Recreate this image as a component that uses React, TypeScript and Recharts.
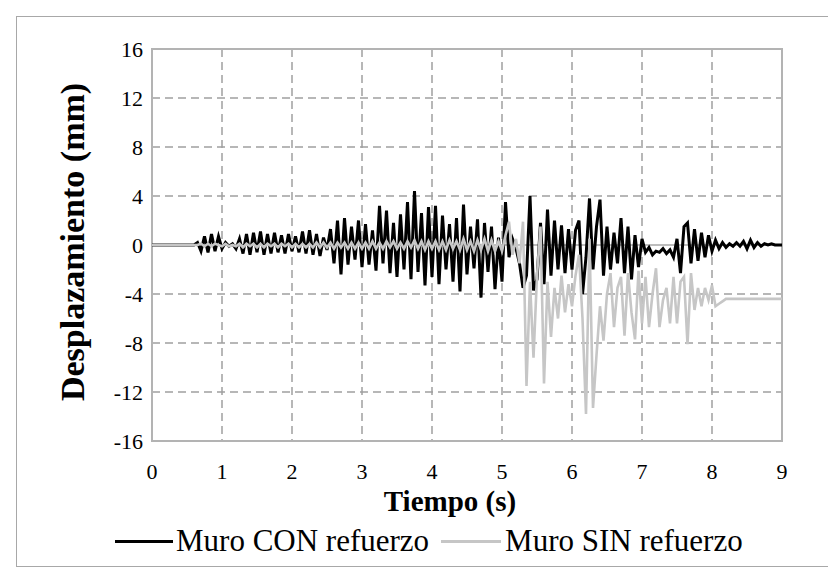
import React from 'react';
import { LineChart, Line, XAxis, YAxis, CartesianGrid, ReferenceArea, ReferenceLine, Label } from 'recharts';

const DT = 0.05;

// Muro CON refuerzo (mm), sampled every 0.05 s from 0 to 9 s
const CON_1 = [0, 0, 0, 0, 0, 0, 0, 0, 0, 0, 0, 0, 0, 0.2, -0.5, 0.7, -0.6, 0.9, -0.5, 0.7];
const CON_2 = [-0.3, 0.2, -0.1, 0.1, -0.3, 0.5, -0.7, 0.9, -0.8, 1.0, -0.6, 1.1, -0.8, 0.9, -0.7, 1.0, -0.6, 0.8, -0.7, 0.9];
const CON_3 = [-0.5, 0.7, -0.6, 1.1, -0.7, 1.2, -0.8, 0.9, -0.9, 0.6, -0.4, 1.3, -1.5, 2.0, -2.4, 2.2, -1.6, 1.5, -1.2, 2.0];
const CON_4 = [-1.8, 1.7, -1.6, 1.2, -2.1, 3.2, -1.5, 2.8, -2.3, 1.8, -2.6, 2.5, -2.0, 3.5, -2.8, 4.4, -2.2, 2.6, -3.3, 3.1];
const CON_5 = [-2.6, 3.2, -3.2, 2.4, -2.0, 1.7, -3.0, 2.2, -3.8, 3.3, -2.4, 1.5, -1.9, 2.1, -4.3, 1.8, -2.2, 1.5, -3.6, 0.6];
const CON_6 = [-3.0, 3.5, -1.0, 0.5, -0.3, -1.5, -3.5, -2.5, 4.0, -3.7, -2.8, 1.8, -3.2, 2.9, -2.5, 2.0, -2.0, 1.6, -2.3, 1.3];
const CON_7 = [-2.0, 1.2, 2.0, -4.0, -1.0, 3.8, -2.0, 1.5, 3.7, -2.5, 1.5, -2.0, 1.0, -1.5, 2.2, -2.3, 1.5, -2.8, 0.8, -1.8];
const CON_8 = [0.5, -0.6, -0.2, -0.8, -0.5, -0.6, -0.3, -0.7, -0.4, -1.0, 0.5, -2.3, 1.5, 1.8, -1.5, 1.3, -1.3, 1.0, -1.0, 0.8];
const CON_9 = [-0.5, 0.4, -0.3, 0.2, -0.2, 0.1, -0.1, 0.2, -0.1, 0.3, -0.3, 0.4, -0.2, 0.2, -0.1, 0.1, 0, 0.1, 0, 0];
const CON_END = [0];

// Muro SIN refuerzo (mm), same sampling
const SIN_1 = [0, 0, 0, 0, 0, 0, 0, 0, 0, 0, 0, 0, 0, 0, 0.1, -0.1, 0.1, -0.1, 0.1, 0];
const SIN_2 = [-0.1, 0.1, -0.1, 0, -0.1, 0.1, -0.2, 0.1, -0.1, 0.1, -0.2, 0.1, -0.2, 0.1, -0.1, 0.1, -0.2, 0.1, -0.1, 0.1];
const SIN_3 = [-0.2, 0.1, -0.2, 0.1, -0.2, 0.1, -0.2, 0.2, -0.2, 0.2, -0.2, 0.2, -0.3, 0.2, -0.2, 0.2, -0.3, 0.2, -0.3, 0.2];
const SIN_4 = [-0.3, 0.2, -0.3, 0.3, -0.3, 0.2, -0.3, 0.3, -0.2, 0.3, -0.3, 0.2, -0.3, 0.3, -0.2, 0.4, -0.3, 0.3, -0.4, 0.3];
const SIN_5 = [-0.3, 0.3, -0.4, 0.3, -0.4, 0.4, -0.3, 0.3, -0.4, 0.5, -0.4, 0.3, -0.5, 0.4, -0.4, 0.5, -0.5, 0.4, -0.5, 0.3];
const SIN_6 = [-0.5, 0.8, 1.9, -0.8, 0.5, -1.5, 1.9, -11.5, -3.0, -9.2, -2.5, 1.5, -11.3, -3.0, -7.5, -3.5, -6.0, -2.5, -5.5, -3.2];
const SIN_7 = [-5.0, -2.5, -0.8, -6.0, -13.8, 0.5, -13.3, -9.0, -5.0, -7.8, -4.0, -2.3, -6.7, -3.5, -2.6, -7.4, -2.3, -5.5, -7.7, -2.1];
const SIN_8 = [-6.4, -2.6, -6.7, -4.0, -1.9, -6.7, -4.5, -3.5, -6.4, -2.6, -6.4, -3.0, -2.6, -8.1, -2.3, -5.3, -3.5, -5.0, -3.5, -4.5];
const SIN_9 = [-3.3, -5.0, -4.8, -4.6, -4.4, -4.4, -4.4, -4.4, -4.4, -4.4, -4.4, -4.4, -4.4, -4.4, -4.4, -4.4, -4.4, -4.4, -4.4, -4.4];
const SIN_END = [-4.4];

const CON = [...CON_1, ...CON_2, ...CON_3, ...CON_4, ...CON_5, ...CON_6, ...CON_7, ...CON_8, ...CON_9, ...CON_END];
const SIN = [...SIN_1, ...SIN_2, ...SIN_3, ...SIN_4, ...SIN_5, ...SIN_6, ...SIN_7, ...SIN_8, ...SIN_9, ...SIN_END];

const X_TICKS = [0, 1, 2, 3, 4, 5, 6, 7, 8, 9];
const Y_TICKS = [-16, -12, -8, -4, 0, 4, 8, 12, 16];
const SERIES_NAMES = ['Muro CON refuerzo', 'Muro SIN refuerzo'];
const SERIES_COLORS = ['#000000', '#c6c6c6'];
const X_TITLE = 'Tiempo (s)';
const Y_TITLE = 'Desplazamiento (mm)';

const data = CON.map((v, i) => ({ t: Math.round(i * DT * 100) / 100, con: v, sin: SIN[i] }));

const FONT = '"Liberation Serif", "DejaVu Serif", serif';

export default function App() {
  return (
    <div style={{ position: 'absolute', left: 0, top: 0, width: 828, height: 580, background: '#fff', overflow: 'hidden' }}>
      <div style={{ position: 'absolute', left: 16, top: 16, width: 830, height: 549, border: '1.5px solid #a8a8a8' }} />
      <div style={{ position: 'absolute', left: 0, top: 0 }}>
        <LineChart width={828} height={580} data={data} margin={{ top: 49, right: 46, bottom: 109, left: 92 }}>
          <CartesianGrid stroke="#a0a0a0" strokeWidth={1.5} strokeDasharray="8 5" />
          <XAxis
            dataKey="t"
            type="number"
            domain={[0, 9]}
            ticks={X_TICKS}
            height={30}
            axisLine={false}
            tickLine={false}
            tickSize={0}
            tickMargin={22}
            tick={{ fill: '#000', fontSize: 22, fontFamily: FONT }}
            interval={0}
          >
            <Label
              content={() => (
                <text x={450} y={511} textAnchor="middle" fontFamily={FONT} fontWeight="bold" fontSize={29} fill="#000">
                  {X_TITLE}
                </text>
              )}
            />
          </XAxis>
          <YAxis
            type="number"
            domain={[-16, 16]}
            ticks={Y_TICKS}
            width={60}
            axisLine={false}
            tickLine={false}
            tickSize={0}
            tickMargin={9}
            tick={{ fill: '#000', fontSize: 22, fontFamily: FONT }}
            interval={0}
          >
            <Label
              content={() => (
                <text
                  x={72}
                  y={242}
                  transform="rotate(-90 72 242)"
                  textAnchor="middle"
                  dominantBaseline="central"
                  fontFamily={FONT}
                  fontWeight="bold"
                  fontSize={34}
                  fill="#000"
                >
                  {Y_TITLE}
                </text>
              )}
            />
          </YAxis>
          <ReferenceLine y={0} stroke="#bdbdbd" strokeWidth={2} />
          <Line
            type="linear"
            dataKey="con"
            name={SERIES_NAMES[0]}
            stroke={SERIES_COLORS[0]}
            strokeWidth={3}
            dot={false}
            isAnimationActive={false}
          />
          <Line
            type="linear"
            dataKey="sin"
            name={SERIES_NAMES[1]}
            stroke={SERIES_COLORS[1]}
            strokeWidth={2.6}
            dot={false}
            isAnimationActive={false}
          />
          <ReferenceArea x1={0} x2={9} y1={-16} y2={16} fill="none" fillOpacity={0} stroke="#b3b3b3" strokeWidth={2} />
        </LineChart>
      </div>
      <div
        style={{
          position: 'absolute',
          left: 0,
          top: 523,
          width: 828,
          display: 'flex',
          justifyContent: 'flex-start',
          alignItems: 'center',
          fontFamily: FONT,
          fontSize: 31,
          color: '#000',
          whiteSpace: 'nowrap',
        }}
      >
        <div style={{ marginLeft: 115, width: 58, height: 3, background: SERIES_COLORS[0] }} />
        <span style={{ marginLeft: 3 }}>{SERIES_NAMES[0]}</span>
        <div style={{ marginLeft: 12, width: 60, height: 3, background: SERIES_COLORS[1] }} />
        <span style={{ marginLeft: 4 }}>{SERIES_NAMES[1]}</span>
      </div>
    </div>
  );
}
